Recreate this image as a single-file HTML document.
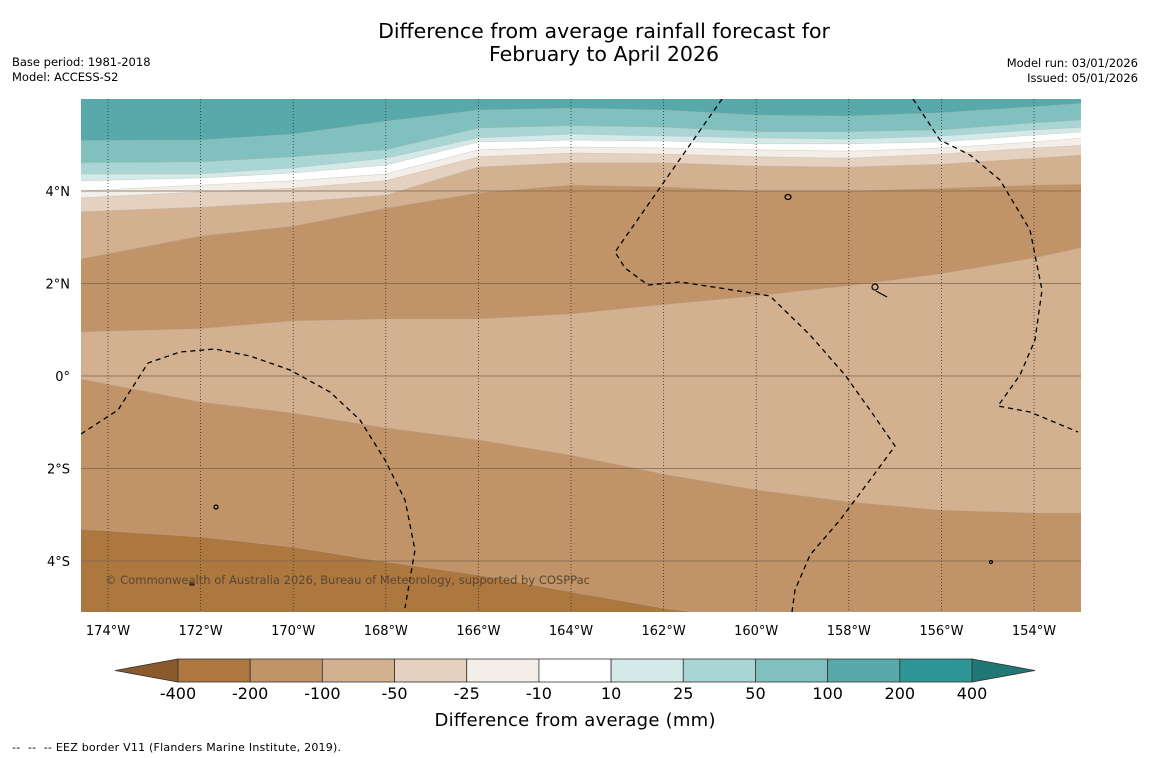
<!DOCTYPE html>
<html><head><meta charset="utf-8"><style>
html,body{margin:0;padding:0;background:#fff;}
body{width:1150px;height:758px;overflow:hidden;position:relative;font-family:"Liberation Sans","DejaVu Sans",sans-serif;}
svg{position:absolute;left:0;top:0;}
</style></head><body>
<svg id="chart" width="1150" height="758" viewBox="0 0 1150 758" font-family="DejaVu Sans, Liberation Sans, sans-serif">
<rect width="1150" height="758" fill="#fff"/>
<text x="604" y="38" text-anchor="middle" font-size="20.5" fill="#000">Difference from average rainfall forecast for</text>
<text x="604" y="61" text-anchor="middle" font-size="20.5" fill="#000">February to April 2026</text>
<text x="12" y="66" font-size="11.5">Base period: 1981-2018</text>
<text x="12" y="81" font-size="11.5">Model: ACCESS-S2</text>
<text x="1138" y="67" text-anchor="end" font-size="11.5">Model run: 03/01/2026</text>
<text x="1138" y="82" text-anchor="end" font-size="11.5">Issued: 05/01/2026</text>
<defs><clipPath id="mapclip"><rect x="81" y="99" width="1000" height="513"/></clipPath></defs>
<g id="map" clip-path="url(#mapclip)"></g>
<g id="grid"></g>
<g id="eez" clip-path="url(#mapclip)" fill="none" stroke="#000" stroke-width="1.3" stroke-dasharray="5,4">
<path d="M81,434 L118,410 L148,363 L180,352 L215,349 L250,356 L290,370 L330,392 L360,420 L385,460 L405,500 L415,550 L405,608"/>
<path d="M722,99 L615,252 L625,268 L648,285 L680,282 L720,288 L770,296 L810,335 L845,375 L870,410 L895,446 L870,480 L840,520 L810,555 L795,590 L792,612"/>
<path d="M913,99 L940,140 L970,155 L1000,180 L1030,230 L1042,290 L1035,340 L1020,375 L998,406 L1030,412 L1078,432"/>
</g>
<g fill="none" stroke="#000" stroke-width="1.2">
<ellipse cx="788" cy="197" rx="3" ry="2.5"/><ellipse cx="875" cy="287" rx="3" ry="3"/><path d="M876,291 L887,297"/>
<ellipse cx="216" cy="507" rx="2" ry="2"/><ellipse cx="192" cy="584" rx="2" ry="1.2"/><ellipse cx="991" cy="562" rx="1.5" ry="1.5"/>
</g>
<text x="105" y="584" font-size="11.5" textLength="485" fill="#5a4630">© Commonwealth of Australia 2026, Bureau of Meteorology, supported by COSPPac</text>
<g id="axes" font-size="13" fill="#000"></g>
<g id="cbar"></g>
<text x="575" y="726" text-anchor="middle" font-size="18" textLength="281">Difference from average (mm)</text>
<text x="12" y="751" font-size="11" xml:space="preserve" textLength="329">--  --  -- EEZ border V11 (Flanders Marine Institute, 2019).</text>
</svg>
<script>
const lons = [-174.6,-172,-170,-168,-166,-164,-162,-160,-158,-156,-154,-152.9];
const b1 = [5.09,5.10,5.23,5.51,5.75,5.79,5.75,5.64,5.62,5.69,5.82,5.90];
const b2 = [4.61,4.63,4.74,4.89,5.36,5.41,5.38,5.28,5.28,5.32,5.47,5.54];
const b3 = [4.37,4.37,4.50,4.71,5.15,5.23,5.19,5.15,5.12,5.19,5.32,5.38];
const b4 = [4.22,4.28,4.39,4.56,5.06,5.10,5.08,5.02,5.02,5.06,5.21,5.28];
const b5 = [4.00,4.13,4.22,4.37,4.89,4.95,4.93,4.89,4.86,4.93,5.06,5.15];
const b6 = [3.85,3.98,4.06,4.22,4.74,4.82,4.80,4.74,4.71,4.80,4.93,4.99];
const b7 = [3.55,3.65,3.76,3.91,4.52,4.61,4.61,4.54,4.52,4.58,4.71,4.78];
const b8 = [2.53,3.03,3.24,3.63,3.96,4.13,4.09,4.00,4.00,4.06,4.13,4.15];
const b9 = [0.95,1.02,1.19,1.23,1.23,1.34,1.54,1.73,1.95,2.21,2.55,2.79];
const b10 = [-0.06,-0.56,-0.80,-1.12,-1.38,-1.71,-2.12,-2.46,-2.72,-2.90,-2.96,-2.96];
const b11 = [-3.31,-3.48,-3.70,-4.02,-4.30,-4.67,-5.02,-5.28,-5.49,-5.71,-5.92,-6.05];
const cbLabels = ["-400","-200","-100","-50","-25","-10","10","25","50","100","200","400"];
const lonTicks = [-174,-172,-170,-168,-166,-164,-162,-160,-158,-156,-154];
const latTicks = [4,2,0,-2,-4];

const C = ["#ad7840","#c09468","#d3b090","#e4d1bf","#f3eee8","#ffffff","#d4eae9","#a9d6d5","#80c0bf","#58a9a9","#2e9694"];
const NS='http://www.w3.org/2000/svg';
const X = lon => 108 + (lon + 174) * 46.3;
const Y = lat => 376 - lat * 46.25;
function mk(tag, attrs, parent){const e=document.createElementNS(NS,tag);for(const k in attrs)e.setAttribute(k,attrs[k]);parent.appendChild(e);return e;}

const map=document.getElementById('map');
const bg=mk('rect',{x:81,y:99,width:1000,height:513,fill:"#58a9a9"},map);


const bands=[[b1,C[8],'band-50-100'],[b2,C[7],'band-25-50'],[b3,C[6],'band-10-25'],[b4,C[5],'band-neutral'],[b5,C[4],'band-minus10-25'],[b6,C[3],'band-minus25-50'],[b7,C[2],'band-minus50-100'],[b8,C[1],'band-minus100-200'],[b9,C[2],'band-minus50-100-equator'],[b10,C[1],'band-minus100-200-south'],[b11,C[0],'band-minus200-400']];
bands.forEach(([arr,col,name])=>{
  let d='M'+X(lons[0])+','+Y(arr[0]);
  for(let i=1;i<lons.length;i++) d+=' L'+X(lons[i]).toFixed(1)+','+Y(arr[i]).toFixed(1);
  d+=' L1090,700 L70,700 Z';
  const p=mk('path',{d:d,fill:col,stroke:"#b9b2a8","stroke-width":0.6,"stroke-opacity":0.5},map);
  
  
});

const grid=document.getElementById('grid');
const axes=document.getElementById('axes');
lonTicks.forEach(l=>{
  const x=X(l);
  const ln=mk('line',{x1:x,y1:99,x2:x,y2:612,stroke:"#333","stroke-width":0.8,"stroke-dasharray":"1,2"},grid);
  
  
  const t=mk('text',{x:x,y:635,"text-anchor":"middle"},axes);
  t.textContent=Math.abs(l)+'°W';
  
  
});
latTicks.forEach(l=>{
  const y=Y(l);
  const ln=mk('line',{x1:81,y1:y,x2:1081,y2:y,stroke:"#7a6450","stroke-width":0.8},grid);
  
  
  const t=mk('text',{x:70,y:y+5,"text-anchor":"end"},axes);
  t.textContent=l===0?'0°':Math.abs(l)+'°'+(l>0?'N':'S');
  
  
});

const cb=document.getElementById('cbar');
const x0=178,w=(972-178)/11,y0=659,h=23;
const lt=mk('polygon',{points:`115,${y0+h/2} ${x0},${y0} ${x0},${y0+h}`,fill:"#8a5a2b",stroke:"#333","stroke-width":0.8},cb);


const rt=mk('polygon',{points:`1035,${y0+h/2} 972,${y0} 972,${y0+h}`,fill:"#207876",stroke:"#333","stroke-width":0.8},cb);


C.forEach((c,i)=>{
  const r=mk('rect',{x:x0+i*w,y:y0,width:w,height:h,fill:c,stroke:"#333","stroke-width":0.8},cb);
  
  
});
cbLabels.forEach((s,i)=>{
  const t=mk('text',{x:x0+i*w,y:699,"text-anchor":"middle","font-size":16},cb);
  t.textContent=s;
  
  
});
</script>
</body></html>
